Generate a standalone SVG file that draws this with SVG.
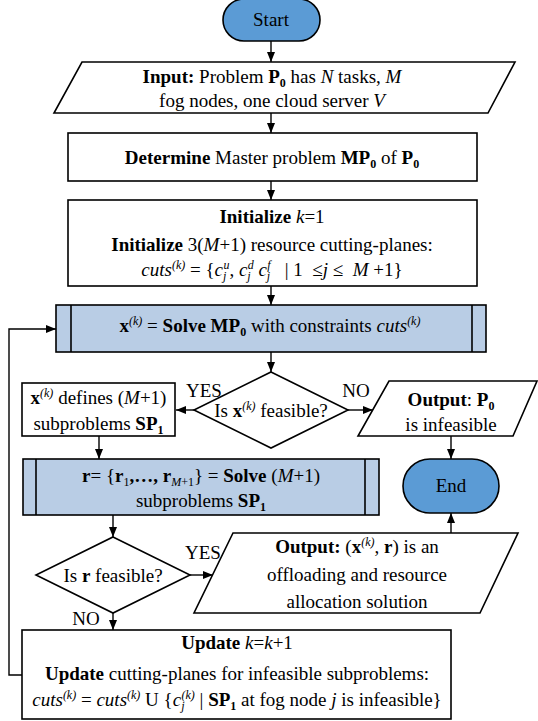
<svg xmlns="http://www.w3.org/2000/svg" width="538" height="721" viewBox="0 0 538 721">
  <style>
    .t { font-family: "Liberation Serif", "Times New Roman", serif; font-size: 19px; fill: #000; text-anchor: middle; }
    .b { font-weight: bold; }
    .i { font-style: italic; }
    .sup { font-size: 12px; baseline-shift: 7px; }
    .sub { font-size: 12px; baseline-shift: -4px; }
    .shape { fill: #fff; stroke: #000; stroke-width: 1.6; }
    .term { fill: #5B9BD5; stroke: #000; stroke-width: 1.6; }
    .proc { fill: #B9CDE5; stroke: #000; stroke-width: 1.6; }
    .bar { fill: none; stroke: #000; stroke-width: 1.6; }
    .edge { fill: none; stroke: #000; stroke-width: 1.4; marker-end: url(#arrow); }
  </style>
  <defs>
    <marker id="arrow" markerUnits="userSpaceOnUse" markerWidth="10" markerHeight="10" viewBox="0 0 10 10" refX="10" refY="5" orient="auto">
      <path d="M0,1 L10,5 L0,9 z" fill="#000"/>
    </marker>
  </defs>

  <!-- connectors -->
  <g id="connectors">
    <line class="edge" x1="271" y1="41" x2="271" y2="62"/>
    <line class="edge" x1="271" y1="113" x2="271" y2="133"/>
    <line class="edge" x1="271" y1="181" x2="271" y2="200"/>
    <line class="edge" x1="271" y1="286" x2="271" y2="305"/>
    <line class="edge" x1="271" y1="352" x2="271" y2="372"/>
    <line class="edge" x1="194" y1="410" x2="176" y2="410"/>
    <line class="edge" x1="348" y1="410" x2="373" y2="410"/>
    <line class="edge" x1="99" y1="436" x2="99" y2="459"/>
    <line class="edge" x1="451" y1="436" x2="451" y2="459"/>
    <line class="edge" x1="113" y1="515" x2="113" y2="537"/>
    <line class="edge" x1="190" y1="575" x2="213" y2="575"/>
    <line class="edge" x1="451" y1="533" x2="451" y2="513"/>
    <line class="edge" x1="113" y1="613" x2="113" y2="630"/>
    <polyline class="edge" points="22,675 9,675 9,329 56,329"/>
    <text class="t" x="204" y="397">YES</text>
    <text class="t" x="356" y="397">NO</text>
    <text class="t" x="203" y="559">YES</text>
    <text class="t" x="86" y="625">NO</text>
  </g>

  <g id="start">
    <rect class="term" x="223" y="-1" width="97" height="42" rx="21"/>
    <text class="t" x="271" y="26">Start</text>
  </g>

  <g id="input">
    <polygon class="shape" points="82,62 515,62 488,113 54,113"/>
    <text class="t" x="272" y="83"><tspan class="b">Input:</tspan> Problem <tspan class="b">P</tspan><tspan class="b sub">0</tspan> has <tspan class="i">N</tspan> tasks, <tspan class="i">M</tspan></text>
    <text class="t" x="272" y="107">fog nodes, one cloud server <tspan class="i">V</tspan></text>
  </g>

  <g id="determine">
    <rect class="shape" x="68" y="133" width="409" height="48"/>
    <text class="t" x="272" y="164"><tspan class="b">Determine</tspan> Master problem <tspan class="b">MP</tspan><tspan class="b sub">0</tspan> of <tspan class="b">P</tspan><tspan class="b sub">0</tspan></text>
  </g>

  <g id="initialize">
    <rect class="shape" x="68" y="200" width="409" height="86"/>
    <text class="t" x="272" y="223"><tspan class="b">Initialize</tspan> <tspan class="i">k</tspan>=1</text>
    <text class="t" x="272" y="251"><tspan class="b">Initialize</tspan> 3(<tspan class="i">M</tspan>+1) resource cutting-planes:</text>
    <text class="t" x="272" y="276" xml:space="preserve"><tspan class="i">cuts</tspan><tspan class="i sup">(k)</tspan> = {<tspan class="i">c</tspan><tspan class="i sub">j</tspan><tspan class="i sup" dx="-3">u</tspan>, <tspan class="i">c</tspan><tspan class="i sub">j</tspan><tspan class="i sup" dx="-3">d</tspan> <tspan class="i">c</tspan><tspan class="i sub">j</tspan><tspan class="i sup" dx="-3">f</tspan>   | 1  ≤<tspan class="i">j</tspan> ≤  <tspan class="i">M</tspan> +1}</text>
  </g>

  <g id="solve-master">
    <rect class="proc" x="56" y="305" width="430" height="47"/>
    <line class="bar" x1="71" y1="305" x2="71" y2="352"/>
    <line class="bar" x1="472" y1="305" x2="472" y2="352"/>
    <text class="t" x="270" y="332"><tspan class="b">x</tspan><tspan class="i sup">(k)</tspan> = <tspan class="b">Solve MP</tspan><tspan class="b sub">0</tspan> with constraints <tspan class="i">cuts</tspan><tspan class="i sup">(k)</tspan></text>
  </g>

  <g id="feasible-x">
    <polygon class="shape" points="271,372 348,410 271,448 194,410"/>
    <text class="t" x="271" y="417">Is <tspan class="b">x</tspan><tspan class="i sup">(k)</tspan> feasible?</text>
  </g>

  <g id="define-sub">
    <rect class="shape" x="22" y="383" width="153" height="53"/>
    <text class="t" x="98.5" y="404"><tspan class="b">x</tspan><tspan class="i sup">(k)</tspan> defines (<tspan class="i">M</tspan>+1)</text>
    <text class="t" x="98.5" y="430">subproblems <tspan class="b">SP</tspan><tspan class="b sub">1</tspan></text>
  </g>

  <g id="infeasible-out">
    <polygon class="shape" points="389,381 537,381 513,436 358,436"/>
    <text class="t" x="451" y="406"><tspan class="b">Output</tspan>: <tspan class="b">P</tspan><tspan class="b sub">0</tspan></text>
    <text class="t" x="451" y="431">is infeasible</text>
  </g>

  <g id="solve-sub">
    <rect class="proc" x="23" y="459" width="356" height="56"/>
    <line class="bar" x1="36" y1="459" x2="36" y2="515"/>
    <line class="bar" x1="365" y1="459" x2="365" y2="515"/>
    <text class="t" x="201" y="482"><tspan class="b">r</tspan>= {<tspan class="b">r</tspan><tspan class="sub">1</tspan><tspan class="b">,…, r</tspan><tspan class="i sub">M</tspan><tspan class="sub">+1</tspan>} = <tspan class="b">Solve</tspan> (<tspan class="i">M</tspan>+1)</text>
    <text class="t" x="201" y="507">subproblems <tspan class="b">SP</tspan><tspan class="b sub">1</tspan></text>
  </g>

  <g id="end">
    <rect class="term" x="403" y="459" width="96" height="54" rx="27"/>
    <text class="t" x="451" y="492">End</text>
  </g>

  <g id="feasible-r">
    <polygon class="shape" points="113,537 190,575 113,613 36,575"/>
    <text class="t" x="113" y="582">Is <tspan class="b">r</tspan> feasible?</text>
  </g>

  <g id="solution-out">
    <polygon class="shape" points="233,533 518,533 480,613 194,613"/>
    <text class="t" x="357" y="553"><tspan class="b">Output:</tspan> (<tspan class="b">x</tspan><tspan class="i sup">(k)</tspan>, <tspan class="b">r</tspan>) is an</text>
    <text class="t" x="357" y="581">offloading and resource</text>
    <text class="t" x="357" y="608">allocation solution</text>
  </g>

  <g id="update">
    <rect class="shape" x="22" y="630" width="429" height="89"/>
    <text class="t" x="237" y="649"><tspan class="b">Update</tspan> <tspan class="i">k</tspan>=<tspan class="i">k</tspan>+1</text>
    <text class="t" x="237" y="680"><tspan class="b">Update</tspan> cutting-planes for infeasible subproblems:</text>
    <text class="t" x="237" y="706"><tspan class="i">cuts</tspan><tspan class="i sup">(k)</tspan> = <tspan class="i">cuts</tspan><tspan class="i sup">(k)</tspan> U {<tspan class="i">c</tspan><tspan class="i sub">j</tspan><tspan class="i sup" dx="-3">(k)</tspan> | <tspan class="b">SP</tspan><tspan class="b sub">1</tspan> at fog node <tspan class="i">j</tspan> is infeasible}</text>
  </g>
</svg>
